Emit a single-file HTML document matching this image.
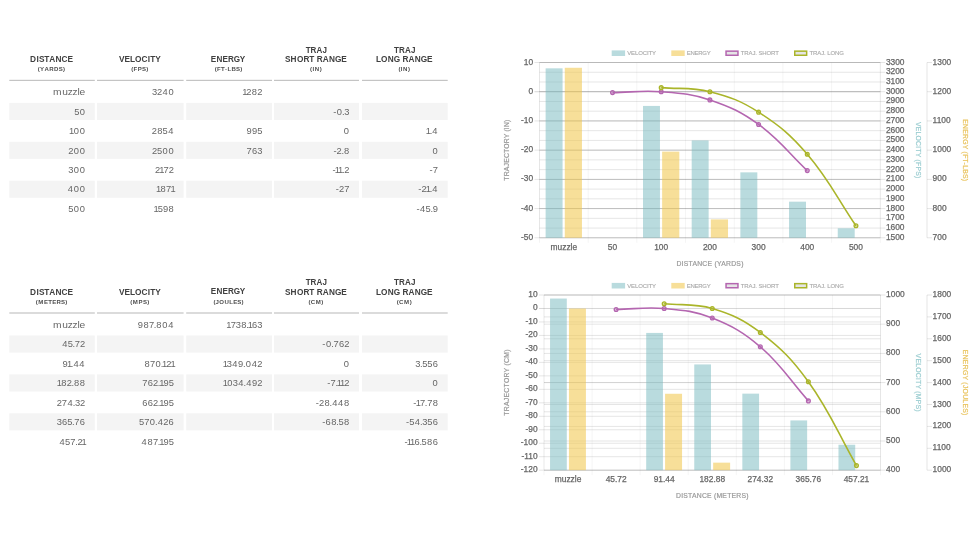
<!DOCTYPE html>
<html><head><meta charset="utf-8"><title>Ballistics</title>
<style>
html,body{margin:0;padding:0;background:#fff;}
body{width:978px;height:550px;overflow:hidden;position:relative;font-family:'Liberation Sans', Arial, sans-serif;}
svg{position:absolute;left:0;top:0;will-change:transform;}
</style></head><body>
<svg width="978" height="550" viewBox="0 0 978 550" font-family="'Liberation Sans', Arial, sans-serif">
<rect x="9.30" y="79.80" width="85.50" height="1.2" fill="#c4c4c4"/>
<text x="30.02 36.54 38.89 44.19 49.27 55.52 61.61 67.42" y="61.90" font-size="8.3" fill="#404040" font-weight="bold">DISTANCE</text>
<text x="35.98 38.17 42.34 46.84 51.51 56.06 60.09" y="71.20" font-size="5.8" fill="#4d4d4d" font-weight="bold" transform="scale(1.050,1)">(YARDS)</text>
<rect x="97.00" y="79.80" width="86.60" height="1.2" fill="#c4c4c4"/>
<text x="118.94 124.61 129.97 135.06 141.52 147.66 150.17 155.14" y="61.90" font-size="8.3" fill="#404040" font-weight="bold">VELOCITY</text>
<text x="124.90 127.15 131.11 135.24 139.26" y="71.20" font-size="5.8" fill="#4d4d4d" font-weight="bold" transform="scale(1.050,1)">(FPS)</text>
<rect x="186.20" y="79.80" width="85.80" height="1.2" fill="#c4c4c4"/>
<text x="214.79 220.57 226.81 232.31 238.18 244.53" y="61.90" font-size="8.3" fill="#404040" font-weight="bold" transform="scale(0.981,1)">ENERGY</text>
<text x="204.47 206.72 210.52 214.40 216.64 220.43 224.81 228.84" y="71.20" font-size="5.8" fill="#4d4d4d" font-weight="bold" transform="scale(1.050,1)">(FT-LBS)</text>
<rect x="274.00" y="79.80" width="85.00" height="1.2" fill="#c4c4c4"/>
<text x="314.78 319.90 326.06 332.16" y="52.90" font-size="8.3" fill="#404040" font-weight="bold" transform="scale(0.971,1)">TRAJ</text>
<text x="286.21 291.78 298.12 304.65 310.55 315.68 318.02 324.02 330.30 336.37 342.61" y="62.10" font-size="8.3" fill="#404040" font-weight="bold" transform="scale(0.996,1)">SHORT RANGE</text>
<text x="295.31 297.64 299.80 304.47" y="71.20" font-size="5.8" fill="#4d4d4d" font-weight="bold" transform="scale(1.050,1)">(IN)</text>
<rect x="362.00" y="79.80" width="85.70" height="1.2" fill="#c4c4c4"/>
<text x="405.80 410.93 417.09 423.19" y="52.90" font-size="8.3" fill="#404040" font-weight="bold" transform="scale(0.971,1)">TRAJ</text>
<text x="377.40 382.51 389.32 395.38 401.78 404.12 410.13 416.40 422.47 428.71" y="62.10" font-size="8.3" fill="#404040" font-weight="bold" transform="scale(0.996,1)">LONG RANGE</text>
<text x="379.45 381.78 383.94 388.61" y="71.20" font-size="5.8" fill="#4d4d4d" font-weight="bold" transform="scale(1.050,1)">(IN)</text>
<text x="43.99 51.63 56.28 60.09 64.18 66.02" y="95.25" font-size="8.5" fill="#666" transform="scale(1.206,1)">muzzle</text>
<text x="138.10 142.73 147.75 153.17" y="95.25" font-size="8.5" fill="#666" transform="scale(1.100,1)">3240</text>
<text x="220.14 223.94 228.87 233.80" y="95.25" font-size="8.5" fill="#666" transform="scale(1.100,1)">1282</text>
<rect x="9.30" y="102.90" width="85.50" height="17.1" fill="#f4f4f4"/>
<text x="67.42 72.44" y="114.70" font-size="8.5" fill="#666" transform="scale(1.100,1)">50</text>
<rect x="97.00" y="102.90" width="86.60" height="17.1" fill="#f4f4f4"/>
<rect x="186.20" y="102.90" width="85.80" height="17.1" fill="#f4f4f4"/>
<rect x="274.00" y="102.90" width="85.00" height="17.1" fill="#f4f4f4"/>
<text x="302.93 306.25 311.01 313.00" y="114.70" font-size="8.5" fill="#666" transform="scale(1.100,1)">-0.3</text>
<rect x="362.00" y="102.90" width="85.70" height="17.1" fill="#f4f4f4"/>
<text x="62.84 67.02 72.44" y="134.15" font-size="8.5" fill="#666" transform="scale(1.100,1)">100</text>
<text x="137.99 142.92 147.85 152.87" y="134.15" font-size="8.5" fill="#666" transform="scale(1.100,1)">2854</text>
<text x="224.03 229.01 233.82" y="134.15" font-size="8.5" fill="#666" transform="scale(1.100,1)">995</text>
<text x="312.62" y="134.15" font-size="8.5" fill="#666" transform="scale(1.100,1)">0</text>
<text x="387.04 390.57 392.96" y="134.15" font-size="8.5" fill="#666" transform="scale(1.100,1)">1.4</text>
<rect x="9.30" y="141.80" width="85.50" height="17.1" fill="#f4f4f4"/>
<text x="61.99 67.02 72.44" y="153.60" font-size="8.5" fill="#666" transform="scale(1.100,1)">200</text>
<rect x="97.00" y="141.80" width="86.60" height="17.1" fill="#f4f4f4"/>
<text x="138.09 142.73 147.75 153.17" y="153.60" font-size="8.5" fill="#666" transform="scale(1.100,1)">2500</text>
<rect x="186.20" y="141.80" width="85.80" height="17.1" fill="#f4f4f4"/>
<text x="224.21 229.11 233.91" y="153.60" font-size="8.5" fill="#666" transform="scale(1.100,1)">763</text>
<rect x="274.00" y="141.80" width="85.00" height="17.1" fill="#f4f4f4"/>
<text x="303.09 306.02 310.40 312.69" y="153.60" font-size="8.5" fill="#666" transform="scale(1.100,1)">-2.8</text>
<rect x="362.00" y="141.80" width="85.70" height="17.1" fill="#f4f4f4"/>
<text x="393.26" y="153.60" font-size="8.5" fill="#666" transform="scale(1.100,1)">0</text>
<text x="62.01 67.02 72.44" y="173.05" font-size="8.5" fill="#666" transform="scale(1.100,1)">300</text>
<text x="141.02 144.82 148.71 153.44" y="173.05" font-size="8.5" fill="#666" transform="scale(1.100,1)">2172</text>
<text x="302.31 304.41 307.36 310.89 312.89" y="173.05" font-size="8.5" fill="#666" transform="scale(1.100,1)">-11.2</text>
<text x="390.46 393.48" y="173.05" font-size="8.5" fill="#666" transform="scale(1.100,1)">-7</text>
<rect x="9.30" y="180.70" width="85.50" height="17.1" fill="#f4f4f4"/>
<text x="61.61 67.02 72.44" y="192.50" font-size="8.5" fill="#666" transform="scale(1.100,1)">400</text>
<rect x="97.00" y="180.70" width="86.60" height="17.1" fill="#f4f4f4"/>
<text x="141.92 146.01 151.03 154.92" y="192.50" font-size="8.5" fill="#666" transform="scale(1.100,1)">1871</text>
<rect x="186.20" y="180.70" width="85.80" height="17.1" fill="#f4f4f4"/>
<rect x="274.00" y="180.70" width="85.00" height="17.1" fill="#f4f4f4"/>
<text x="305.18 308.12 312.85" y="192.50" font-size="8.5" fill="#666" transform="scale(1.100,1)">-27</text>
<rect x="362.00" y="180.70" width="85.70" height="17.1" fill="#f4f4f4"/>
<text x="380.30 383.24 387.04 390.57 392.96" y="192.50" font-size="8.5" fill="#666" transform="scale(1.100,1)">-21.4</text>
<text x="62.00 67.02 72.44" y="211.95" font-size="8.5" fill="#666" transform="scale(1.100,1)">500</text>
<text x="139.54 143.33 148.14 153.24" y="211.95" font-size="8.5" fill="#666" transform="scale(1.100,1)">1598</text>
<text x="378.60 381.92 386.94 391.30 393.48" y="211.95" font-size="8.5" fill="#666" transform="scale(1.100,1)">-45.9</text>
<rect x="9.30" y="312.40" width="85.50" height="1.2" fill="#c4c4c4"/>
<text x="30.02 36.54 38.89 44.19 49.27 55.52 61.61 67.42" y="294.50" font-size="8.3" fill="#404040" font-weight="bold">DISTANCE</text>
<text x="34.03 36.53 41.87 45.93 49.66 53.72 58.02 62.04" y="303.80" font-size="5.8" fill="#4d4d4d" font-weight="bold" transform="scale(1.050,1)">(METERS)</text>
<rect x="97.00" y="312.40" width="86.60" height="1.2" fill="#c4c4c4"/>
<text x="118.94 124.61 129.97 135.06 141.52 147.66 150.17 155.14" y="294.50" font-size="8.3" fill="#404040" font-weight="bold">VELOCITY</text>
<text x="124.00 126.51 132.02 136.14 140.16" y="303.80" font-size="5.8" fill="#4d4d4d" font-weight="bold" transform="scale(1.050,1)">(MPS)</text>
<rect x="186.20" y="312.40" width="85.80" height="1.2" fill="#c4c4c4"/>
<text x="214.79 220.57 226.81 232.31 238.18 244.53" y="294.50" font-size="8.3" fill="#404040" font-weight="bold" transform="scale(0.981,1)">ENERGY</text>
<text x="203.22 205.35 208.87 213.91 218.42 222.11 226.06 230.08" y="303.80" font-size="5.8" fill="#4d4d4d" font-weight="bold" transform="scale(1.050,1)">(JOULES)</text>
<rect x="274.00" y="312.40" width="85.00" height="1.2" fill="#c4c4c4"/>
<text x="314.78 319.90 326.06 332.16" y="285.50" font-size="8.3" fill="#404040" font-weight="bold" transform="scale(0.971,1)">TRAJ</text>
<text x="286.21 291.78 298.12 304.65 310.55 315.68 318.02 324.02 330.30 336.37 342.61" y="294.70" font-size="8.3" fill="#404040" font-weight="bold" transform="scale(0.996,1)">SHORT RANGE</text>
<text x="293.76 295.93 300.61 306.02" y="303.80" font-size="5.8" fill="#4d4d4d" font-weight="bold" transform="scale(1.050,1)">(CM)</text>
<rect x="362.00" y="312.40" width="85.70" height="1.2" fill="#c4c4c4"/>
<text x="405.80 410.93 417.09 423.19" y="285.50" font-size="8.3" fill="#404040" font-weight="bold" transform="scale(0.971,1)">TRAJ</text>
<text x="377.40 382.51 389.32 395.38 401.78 404.12 410.13 416.40 422.47 428.71" y="294.70" font-size="8.3" fill="#404040" font-weight="bold" transform="scale(0.996,1)">LONG RANGE</text>
<text x="377.90 380.07 384.75 390.17" y="303.80" font-size="5.8" fill="#4d4d4d" font-weight="bold" transform="scale(1.050,1)">(CM)</text>
<text x="43.99 51.63 56.28 60.09 64.18 66.02" y="327.85" font-size="8.5" fill="#666" transform="scale(1.206,1)">muzzle</text>
<text x="125.26 130.36 135.38 139.84 142.14 147.45 152.87" y="327.85" font-size="8.5" fill="#666" transform="scale(1.100,1)">987.804</text>
<text x="205.80 209.69 214.41 219.32 223.98 225.15 229.11 233.91" y="327.85" font-size="8.5" fill="#666" transform="scale(1.100,1)">1738.163</text>
<rect x="9.30" y="335.50" width="85.50" height="17.1" fill="#f4f4f4"/>
<text x="56.50 61.52 65.89 67.98 72.71" y="347.30" font-size="8.5" fill="#666" transform="scale(1.100,1)">45.72</text>
<rect x="97.00" y="335.50" width="86.60" height="17.1" fill="#f4f4f4"/>
<rect x="186.20" y="335.50" width="85.80" height="17.1" fill="#f4f4f4"/>
<rect x="274.00" y="335.50" width="85.00" height="17.1" fill="#f4f4f4"/>
<text x="293.00 296.33 301.08 303.18 308.08 312.89" y="347.30" font-size="8.5" fill="#666" transform="scale(1.100,1)">-0.762</text>
<rect x="362.00" y="335.50" width="85.70" height="17.1" fill="#f4f4f4"/>
<text x="56.85 60.82 64.34 66.73 72.14" y="366.75" font-size="8.5" fill="#666" transform="scale(1.100,1)">91.44</text>
<text x="131.26 136.28 141.39 146.15 147.31 151.11 154.92" y="366.75" font-size="8.5" fill="#666" transform="scale(1.100,1)">870.121</text>
<text x="202.44 206.22 211.23 216.43 220.97 223.36 228.78 233.80" y="366.75" font-size="8.5" fill="#666" transform="scale(1.100,1)">1349.042</text>
<text x="312.62" y="366.75" font-size="8.5" fill="#666" transform="scale(1.100,1)">0</text>
<text x="377.51 381.87 383.87 388.50 393.31" y="366.75" font-size="8.5" fill="#666" transform="scale(1.100,1)">3.556</text>
<rect x="9.30" y="374.40" width="85.50" height="17.1" fill="#f4f4f4"/>
<text x="51.60 55.69 60.62 65.00 67.29 72.51" y="386.20" font-size="8.5" fill="#666" transform="scale(1.100,1)">182.88</text>
<rect x="97.00" y="374.40" width="86.60" height="17.1" fill="#f4f4f4"/>
<text x="129.43 134.33 139.15 143.52 144.68 148.65 153.46" y="386.20" font-size="8.5" fill="#666" transform="scale(1.100,1)">762.195</text>
<rect x="186.20" y="374.40" width="85.80" height="17.1" fill="#f4f4f4"/>
<text x="202.44 206.62 211.64 216.65 221.40 223.79 228.99 233.80" y="386.20" font-size="8.5" fill="#666" transform="scale(1.100,1)">1034.492</text>
<rect x="274.00" y="374.40" width="85.00" height="17.1" fill="#f4f4f4"/>
<text x="297.50 300.52 304.98 306.14 309.09 312.89" y="386.20" font-size="8.5" fill="#666" transform="scale(1.100,1)">-7.112</text>
<rect x="362.00" y="374.40" width="85.70" height="17.1" fill="#f4f4f4"/>
<text x="393.26" y="386.20" font-size="8.5" fill="#666" transform="scale(1.100,1)">0</text>
<text x="51.49 56.22 61.34 66.09 68.08 72.71" y="405.65" font-size="8.5" fill="#666" transform="scale(1.100,1)">274.32</text>
<text x="129.35 134.33 139.15 143.52 144.68 148.65 153.46" y="405.65" font-size="8.5" fill="#666" transform="scale(1.100,1)">662.195</text>
<text x="287.05 289.99 294.92 299.58 301.97 307.38 312.69" y="405.65" font-size="8.5" fill="#666" transform="scale(1.100,1)">-28.448</text>
<text x="375.78 377.87 381.76 386.21 388.31 393.33" y="405.65" font-size="8.5" fill="#666" transform="scale(1.100,1)">-17.78</text>
<rect x="9.30" y="413.30" width="85.50" height="17.1" fill="#f4f4f4"/>
<text x="51.52 56.32 61.13 65.49 67.59 72.49" y="425.10" font-size="8.5" fill="#666" transform="scale(1.100,1)">365.76</text>
<rect x="97.00" y="413.30" width="86.60" height="17.1" fill="#f4f4f4"/>
<text x="126.38 131.11 136.23 140.98 143.37 148.40 153.21" y="425.10" font-size="8.5" fill="#666" transform="scale(1.100,1)">570.426</text>
<rect x="186.20" y="413.30" width="85.80" height="17.1" fill="#f4f4f4"/>
<rect x="274.00" y="413.30" width="85.00" height="17.1" fill="#f4f4f4"/>
<text x="292.90 296.01 301.11 305.77 307.77 312.69" y="425.10" font-size="8.5" fill="#666" transform="scale(1.100,1)">-68.58</text>
<rect x="362.00" y="413.30" width="85.70" height="17.1" fill="#f4f4f4"/>
<text x="369.18 372.11 377.13 381.88 383.88 388.50 393.31" y="425.10" font-size="8.5" fill="#666" transform="scale(1.100,1)">-54.356</text>
<text x="54.18 59.19 63.92 68.38 70.39 74.19" y="444.55" font-size="8.5" fill="#666" transform="scale(1.100,1)">457.21</text>
<text x="128.73 134.04 139.06 143.52 144.68 148.65 153.46" y="444.55" font-size="8.5" fill="#666" transform="scale(1.100,1)">487.195</text>
<text x="367.72 369.82 372.77 376.74 381.28 383.28 388.20 393.31" y="444.55" font-size="8.5" fill="#666" transform="scale(1.100,1)">-116.586</text>
<line x1="539.50" y1="62.50" x2="539.50" y2="242.80" stroke="rgba(0,0,0,0.045)" stroke-width="1"/>
<line x1="588.19" y1="62.50" x2="588.19" y2="242.80" stroke="rgba(0,0,0,0.045)" stroke-width="1"/>
<line x1="636.87" y1="62.50" x2="636.87" y2="242.80" stroke="rgba(0,0,0,0.045)" stroke-width="1"/>
<line x1="685.56" y1="62.50" x2="685.56" y2="242.80" stroke="rgba(0,0,0,0.045)" stroke-width="1"/>
<line x1="734.24" y1="62.50" x2="734.24" y2="242.80" stroke="rgba(0,0,0,0.045)" stroke-width="1"/>
<line x1="782.93" y1="62.50" x2="782.93" y2="242.80" stroke="rgba(0,0,0,0.045)" stroke-width="1"/>
<line x1="831.61" y1="62.50" x2="831.61" y2="242.80" stroke="rgba(0,0,0,0.045)" stroke-width="1"/>
<line x1="880.30" y1="62.50" x2="880.30" y2="242.80" stroke="rgba(0,0,0,0.045)" stroke-width="1"/>
<line x1="534.50" y1="237.80" x2="880.30" y2="237.80" stroke="rgba(0,0,0,0.1)" stroke-width="1"/>
<text x="533.10" y="239.80" font-size="8.4" fill="#666" text-anchor="end" stroke="#666" stroke-width="0.25">-50</text>
<line x1="534.50" y1="208.58" x2="880.30" y2="208.58" stroke="rgba(0,0,0,0.1)" stroke-width="1"/>
<text x="533.10" y="210.58" font-size="8.4" fill="#666" text-anchor="end" stroke="#666" stroke-width="0.25">-40</text>
<line x1="534.50" y1="179.37" x2="880.30" y2="179.37" stroke="rgba(0,0,0,0.1)" stroke-width="1"/>
<text x="533.10" y="181.37" font-size="8.4" fill="#666" text-anchor="end" stroke="#666" stroke-width="0.25">-30</text>
<line x1="534.50" y1="150.15" x2="880.30" y2="150.15" stroke="rgba(0,0,0,0.1)" stroke-width="1"/>
<text x="533.10" y="152.15" font-size="8.4" fill="#666" text-anchor="end" stroke="#666" stroke-width="0.25">-20</text>
<line x1="534.50" y1="120.93" x2="880.30" y2="120.93" stroke="rgba(0,0,0,0.1)" stroke-width="1"/>
<text x="533.10" y="122.93" font-size="8.4" fill="#666" text-anchor="end" stroke="#666" stroke-width="0.25">-10</text>
<line x1="534.50" y1="91.72" x2="880.30" y2="91.72" stroke="rgba(0,0,0,0.16)" stroke-width="1"/>
<text x="533.10" y="93.72" font-size="8.4" fill="#666" text-anchor="end" stroke="#666" stroke-width="0.25">0</text>
<line x1="534.50" y1="62.50" x2="880.30" y2="62.50" stroke="rgba(0,0,0,0.1)" stroke-width="1"/>
<text x="533.10" y="64.50" font-size="8.4" fill="#666" text-anchor="end" stroke="#666" stroke-width="0.25">10</text>
<line x1="539.50" y1="237.80" x2="885.30" y2="237.80" stroke="rgba(0,0,0,0.1)" stroke-width="1"/>
<text x="885.90" y="239.80" font-size="8.4" fill="#666" stroke="#666" stroke-width="0.25">1500</text>
<line x1="539.50" y1="228.06" x2="885.30" y2="228.06" stroke="rgba(0,0,0,0.1)" stroke-width="1"/>
<text x="885.90" y="230.06" font-size="8.4" fill="#666" stroke="#666" stroke-width="0.25">1600</text>
<line x1="539.50" y1="218.32" x2="885.30" y2="218.32" stroke="rgba(0,0,0,0.1)" stroke-width="1"/>
<text x="885.90" y="220.32" font-size="8.4" fill="#666" stroke="#666" stroke-width="0.25">1700</text>
<line x1="539.50" y1="208.58" x2="885.30" y2="208.58" stroke="rgba(0,0,0,0.1)" stroke-width="1"/>
<text x="885.90" y="210.58" font-size="8.4" fill="#666" stroke="#666" stroke-width="0.25">1800</text>
<line x1="539.50" y1="198.84" x2="885.30" y2="198.84" stroke="rgba(0,0,0,0.1)" stroke-width="1"/>
<text x="885.90" y="200.84" font-size="8.4" fill="#666" stroke="#666" stroke-width="0.25">1900</text>
<line x1="539.50" y1="189.11" x2="885.30" y2="189.11" stroke="rgba(0,0,0,0.1)" stroke-width="1"/>
<text x="885.90" y="191.11" font-size="8.4" fill="#666" stroke="#666" stroke-width="0.25">2000</text>
<line x1="539.50" y1="179.37" x2="885.30" y2="179.37" stroke="rgba(0,0,0,0.1)" stroke-width="1"/>
<text x="885.90" y="181.37" font-size="8.4" fill="#666" stroke="#666" stroke-width="0.25">2100</text>
<line x1="539.50" y1="169.63" x2="885.30" y2="169.63" stroke="rgba(0,0,0,0.1)" stroke-width="1"/>
<text x="885.90" y="171.63" font-size="8.4" fill="#666" stroke="#666" stroke-width="0.25">2200</text>
<line x1="539.50" y1="159.89" x2="885.30" y2="159.89" stroke="rgba(0,0,0,0.1)" stroke-width="1"/>
<text x="885.90" y="161.89" font-size="8.4" fill="#666" stroke="#666" stroke-width="0.25">2300</text>
<line x1="539.50" y1="150.15" x2="885.30" y2="150.15" stroke="rgba(0,0,0,0.1)" stroke-width="1"/>
<text x="885.90" y="152.15" font-size="8.4" fill="#666" stroke="#666" stroke-width="0.25">2400</text>
<line x1="539.50" y1="140.41" x2="885.30" y2="140.41" stroke="rgba(0,0,0,0.1)" stroke-width="1"/>
<text x="885.90" y="142.41" font-size="8.4" fill="#666" stroke="#666" stroke-width="0.25">2500</text>
<line x1="539.50" y1="130.67" x2="885.30" y2="130.67" stroke="rgba(0,0,0,0.1)" stroke-width="1"/>
<text x="885.90" y="132.67" font-size="8.4" fill="#666" stroke="#666" stroke-width="0.25">2600</text>
<line x1="539.50" y1="120.93" x2="885.30" y2="120.93" stroke="rgba(0,0,0,0.1)" stroke-width="1"/>
<text x="885.90" y="122.93" font-size="8.4" fill="#666" stroke="#666" stroke-width="0.25">2700</text>
<line x1="539.50" y1="111.19" x2="885.30" y2="111.19" stroke="rgba(0,0,0,0.1)" stroke-width="1"/>
<text x="885.90" y="113.19" font-size="8.4" fill="#666" stroke="#666" stroke-width="0.25">2800</text>
<line x1="539.50" y1="101.46" x2="885.30" y2="101.46" stroke="rgba(0,0,0,0.1)" stroke-width="1"/>
<text x="885.90" y="103.46" font-size="8.4" fill="#666" stroke="#666" stroke-width="0.25">2900</text>
<line x1="539.50" y1="91.72" x2="885.30" y2="91.72" stroke="rgba(0,0,0,0.1)" stroke-width="1"/>
<text x="885.90" y="93.72" font-size="8.4" fill="#666" stroke="#666" stroke-width="0.25">3000</text>
<line x1="539.50" y1="81.98" x2="885.30" y2="81.98" stroke="rgba(0,0,0,0.1)" stroke-width="1"/>
<text x="885.90" y="83.98" font-size="8.4" fill="#666" stroke="#666" stroke-width="0.25">3100</text>
<line x1="539.50" y1="72.24" x2="885.30" y2="72.24" stroke="rgba(0,0,0,0.1)" stroke-width="1"/>
<text x="885.90" y="74.24" font-size="8.4" fill="#666" stroke="#666" stroke-width="0.25">3200</text>
<line x1="539.50" y1="62.50" x2="885.30" y2="62.50" stroke="rgba(0,0,0,0.1)" stroke-width="1"/>
<text x="885.90" y="64.50" font-size="8.4" fill="#666" stroke="#666" stroke-width="0.25">3300</text>
<line x1="539.50" y1="237.80" x2="880.30" y2="237.80" stroke="rgba(0,0,0,0.1)" stroke-width="1"/>
<line x1="927.00" y1="237.80" x2="932.00" y2="237.80" stroke="rgba(0,0,0,0.1)" stroke-width="1"/>
<text x="932.60" y="239.80" font-size="8.4" fill="#666" stroke="#666" stroke-width="0.25">700</text>
<line x1="539.50" y1="208.58" x2="880.30" y2="208.58" stroke="rgba(0,0,0,0.1)" stroke-width="1"/>
<line x1="927.00" y1="208.58" x2="932.00" y2="208.58" stroke="rgba(0,0,0,0.1)" stroke-width="1"/>
<text x="932.60" y="210.58" font-size="8.4" fill="#666" stroke="#666" stroke-width="0.25">800</text>
<line x1="539.50" y1="179.37" x2="880.30" y2="179.37" stroke="rgba(0,0,0,0.1)" stroke-width="1"/>
<line x1="927.00" y1="179.37" x2="932.00" y2="179.37" stroke="rgba(0,0,0,0.1)" stroke-width="1"/>
<text x="932.60" y="181.37" font-size="8.4" fill="#666" stroke="#666" stroke-width="0.25">900</text>
<line x1="539.50" y1="150.15" x2="880.30" y2="150.15" stroke="rgba(0,0,0,0.1)" stroke-width="1"/>
<line x1="927.00" y1="150.15" x2="932.00" y2="150.15" stroke="rgba(0,0,0,0.1)" stroke-width="1"/>
<text x="932.60" y="152.15" font-size="8.4" fill="#666" stroke="#666" stroke-width="0.25">1000</text>
<line x1="539.50" y1="120.93" x2="880.30" y2="120.93" stroke="rgba(0,0,0,0.1)" stroke-width="1"/>
<line x1="927.00" y1="120.93" x2="932.00" y2="120.93" stroke="rgba(0,0,0,0.1)" stroke-width="1"/>
<text x="932.60" y="122.93" font-size="8.4" fill="#666" stroke="#666" stroke-width="0.25">1100</text>
<line x1="539.50" y1="91.72" x2="880.30" y2="91.72" stroke="rgba(0,0,0,0.1)" stroke-width="1"/>
<line x1="927.00" y1="91.72" x2="932.00" y2="91.72" stroke="rgba(0,0,0,0.1)" stroke-width="1"/>
<text x="932.60" y="93.72" font-size="8.4" fill="#666" stroke="#666" stroke-width="0.25">1200</text>
<line x1="539.50" y1="62.50" x2="880.30" y2="62.50" stroke="rgba(0,0,0,0.1)" stroke-width="1"/>
<line x1="927.00" y1="62.50" x2="932.00" y2="62.50" stroke="rgba(0,0,0,0.1)" stroke-width="1"/>
<text x="932.60" y="64.50" font-size="8.4" fill="#666" stroke="#666" stroke-width="0.25">1300</text>
<line x1="927.00" y1="62.50" x2="927.00" y2="237.80" stroke="rgba(0,0,0,0.1)" stroke-width="1"/>
<line x1="539.50" y1="62.50" x2="539.50" y2="237.80" stroke="rgba(0,0,0,0.06)" stroke-width="1"/>
<line x1="880.30" y1="62.50" x2="880.30" y2="237.80" stroke="rgba(0,0,0,0.06)" stroke-width="1"/>
<text x="563.84" y="249.70" font-size="8.4" fill="#666" text-anchor="middle" stroke="#666" stroke-width="0.25">muzzle</text>
<text x="612.53" y="249.70" font-size="8.4" fill="#666" text-anchor="middle" stroke="#666" stroke-width="0.25">50</text>
<text x="661.21" y="249.70" font-size="8.4" fill="#666" text-anchor="middle" stroke="#666" stroke-width="0.25">100</text>
<text x="709.90" y="249.70" font-size="8.4" fill="#666" text-anchor="middle" stroke="#666" stroke-width="0.25">200</text>
<text x="758.59" y="249.70" font-size="8.4" fill="#666" text-anchor="middle" stroke="#666" stroke-width="0.25">300</text>
<text x="807.27" y="249.70" font-size="8.4" fill="#666" text-anchor="middle" stroke="#666" stroke-width="0.25">400</text>
<text x="855.96" y="249.70" font-size="8.4" fill="#666" text-anchor="middle" stroke="#666" stroke-width="0.25">500</text>
<rect x="545.63" y="68.34" width="16.94" height="169.46" fill="rgba(115,183,190,0.5)"/>
<rect x="564.76" y="67.76" width="17.19" height="170.04" fill="rgba(240,196,70,0.55)"/>
<rect x="643.01" y="105.94" width="16.94" height="131.86" fill="rgba(115,183,190,0.5)"/>
<rect x="662.13" y="151.61" width="17.19" height="86.19" fill="rgba(240,196,70,0.55)"/>
<rect x="691.69" y="140.41" width="16.94" height="97.39" fill="rgba(115,183,190,0.5)"/>
<rect x="710.82" y="219.39" width="17.19" height="18.41" fill="rgba(240,196,70,0.55)"/>
<rect x="740.38" y="172.35" width="16.94" height="65.45" fill="rgba(115,183,190,0.5)"/>
<rect x="789.06" y="201.67" width="16.94" height="36.13" fill="rgba(115,183,190,0.5)"/>
<rect x="837.75" y="228.26" width="16.94" height="9.54" fill="rgba(115,183,190,0.5)"/>
<path d="M612.53,92.59 C632.00,92.24 641.87,90.27 661.21,91.72 C680.82,93.19 691.39,93.68 709.90,99.90 C730.34,106.77 741.12,111.76 758.59,124.44 C780.07,140.04 787.80,152.14 807.27,170.60" fill="none" stroke="#b466b0" stroke-width="1.6"/>
<circle cx="612.53" cy="92.59" r="1.9" fill="#b466b0" fill-opacity="0.45" stroke="#b466b0" stroke-width="1.3"/>
<circle cx="661.21" cy="91.72" r="1.9" fill="#b466b0" fill-opacity="0.45" stroke="#b466b0" stroke-width="1.3"/>
<circle cx="709.90" cy="99.90" r="1.9" fill="#b466b0" fill-opacity="0.45" stroke="#b466b0" stroke-width="1.3"/>
<circle cx="758.59" cy="124.44" r="1.9" fill="#b466b0" fill-opacity="0.45" stroke="#b466b0" stroke-width="1.3"/>
<circle cx="807.27" cy="170.60" r="1.9" fill="#b466b0" fill-opacity="0.45" stroke="#b466b0" stroke-width="1.3"/>
<path d="M661.21,87.63 C680.69,89.26 691.18,87.00 709.90,91.72 C730.13,96.82 741.03,100.90 758.59,112.17 C779.98,125.90 790.66,134.86 807.27,154.24 C829.61,180.32 836.48,197.19 855.96,225.82" fill="none" stroke="#aab52a" stroke-width="1.6"/>
<circle cx="661.21" cy="87.63" r="1.9" fill="#aab52a" fill-opacity="0.45" stroke="#aab52a" stroke-width="1.3"/>
<circle cx="709.90" cy="91.72" r="1.9" fill="#aab52a" fill-opacity="0.45" stroke="#aab52a" stroke-width="1.3"/>
<circle cx="758.59" cy="112.17" r="1.9" fill="#aab52a" fill-opacity="0.45" stroke="#aab52a" stroke-width="1.3"/>
<circle cx="807.27" cy="154.24" r="1.9" fill="#aab52a" fill-opacity="0.45" stroke="#aab52a" stroke-width="1.3"/>
<circle cx="855.96" cy="225.82" r="1.9" fill="#aab52a" fill-opacity="0.45" stroke="#aab52a" stroke-width="1.3"/>
<text x="509.40" y="150.15" font-size="6.8" fill="#999" text-anchor="middle" textLength="61.00" lengthAdjust="spacing" stroke="#999" stroke-width="0.2" transform="rotate(-90 509.4 150.15)">TRAJECTORY (IN)</text>
<text x="916.20" y="150.15" font-size="6.8" fill="#9ccdd1" text-anchor="middle" textLength="56.30" lengthAdjust="spacing" stroke="#9ccdd1" stroke-width="0.2" transform="rotate(90 916.2 150.15)">VELOCITY (FPS)</text>
<text x="962.50" y="150.15" font-size="6.8" fill="#e9c45f" text-anchor="middle" textLength="61.90" lengthAdjust="spacing" stroke="#e9c45f" stroke-width="0.2" transform="rotate(90 962.5 150.15)">ENERGY (FT-LBS)</text>
<text x="709.90" y="266.00" font-size="6.8" fill="#999" text-anchor="middle" textLength="67.00" lengthAdjust="spacing" stroke="#999" stroke-width="0.2">DISTANCE (YARDS)</text>
<rect x="611.70" y="50.40" width="13.40" height="5.60" fill="rgba(115,183,190,0.5)" stroke="rgba(115,183,190,0.5)" stroke-width="0"/>
<text x="627.20" y="55.00" font-size="6.0" fill="#aaa" textLength="28.90" lengthAdjust="spacing" stroke="#aaa" stroke-width="0.12">VELOCITY</text>
<rect x="671.30" y="50.40" width="13.40" height="5.60" fill="rgba(240,196,70,0.55)" stroke="rgba(240,196,70,0.55)" stroke-width="0"/>
<text x="686.80" y="55.00" font-size="6.0" fill="#aaa" textLength="23.90" lengthAdjust="spacing" stroke="#aaa" stroke-width="0.12">ENERGY</text>
<rect x="726.05" y="51.15" width="11.90" height="4.10" fill="rgba(0,0,0,0.1)" stroke="#b466b0" stroke-width="1.5"/>
<text x="740.80" y="55.00" font-size="6.0" fill="#aaa" textLength="38.10" lengthAdjust="spacing" stroke="#aaa" stroke-width="0.12">TRAJ. SHORT</text>
<rect x="794.75" y="51.15" width="11.90" height="4.10" fill="rgba(0,0,0,0.1)" stroke="#aab52a" stroke-width="1.5"/>
<text x="809.50" y="55.00" font-size="6.0" fill="#aaa" textLength="34.40" lengthAdjust="spacing" stroke="#aaa" stroke-width="0.12">TRAJ. LONG</text>
<line x1="544.00" y1="295.00" x2="544.00" y2="475.20" stroke="rgba(0,0,0,0.045)" stroke-width="1"/>
<line x1="592.07" y1="295.00" x2="592.07" y2="475.20" stroke="rgba(0,0,0,0.045)" stroke-width="1"/>
<line x1="640.14" y1="295.00" x2="640.14" y2="475.20" stroke="rgba(0,0,0,0.045)" stroke-width="1"/>
<line x1="688.21" y1="295.00" x2="688.21" y2="475.20" stroke="rgba(0,0,0,0.045)" stroke-width="1"/>
<line x1="736.29" y1="295.00" x2="736.29" y2="475.20" stroke="rgba(0,0,0,0.045)" stroke-width="1"/>
<line x1="784.36" y1="295.00" x2="784.36" y2="475.20" stroke="rgba(0,0,0,0.045)" stroke-width="1"/>
<line x1="832.43" y1="295.00" x2="832.43" y2="475.20" stroke="rgba(0,0,0,0.045)" stroke-width="1"/>
<line x1="880.50" y1="295.00" x2="880.50" y2="475.20" stroke="rgba(0,0,0,0.045)" stroke-width="1"/>
<line x1="539.00" y1="470.20" x2="880.50" y2="470.20" stroke="rgba(0,0,0,0.1)" stroke-width="1"/>
<text x="537.60" y="472.20" font-size="8.4" fill="#666" text-anchor="end" stroke="#666" stroke-width="0.25">-120</text>
<line x1="539.00" y1="456.72" x2="880.50" y2="456.72" stroke="rgba(0,0,0,0.1)" stroke-width="1"/>
<text x="537.60" y="458.72" font-size="8.4" fill="#666" text-anchor="end" stroke="#666" stroke-width="0.25">-110</text>
<line x1="539.00" y1="443.25" x2="880.50" y2="443.25" stroke="rgba(0,0,0,0.1)" stroke-width="1"/>
<text x="537.60" y="445.25" font-size="8.4" fill="#666" text-anchor="end" stroke="#666" stroke-width="0.25">-100</text>
<line x1="539.00" y1="429.77" x2="880.50" y2="429.77" stroke="rgba(0,0,0,0.1)" stroke-width="1"/>
<text x="537.60" y="431.77" font-size="8.4" fill="#666" text-anchor="end" stroke="#666" stroke-width="0.25">-90</text>
<line x1="539.00" y1="416.29" x2="880.50" y2="416.29" stroke="rgba(0,0,0,0.1)" stroke-width="1"/>
<text x="537.60" y="418.29" font-size="8.4" fill="#666" text-anchor="end" stroke="#666" stroke-width="0.25">-80</text>
<line x1="539.00" y1="402.82" x2="880.50" y2="402.82" stroke="rgba(0,0,0,0.1)" stroke-width="1"/>
<text x="537.60" y="404.82" font-size="8.4" fill="#666" text-anchor="end" stroke="#666" stroke-width="0.25">-70</text>
<line x1="539.00" y1="389.34" x2="880.50" y2="389.34" stroke="rgba(0,0,0,0.1)" stroke-width="1"/>
<text x="537.60" y="391.34" font-size="8.4" fill="#666" text-anchor="end" stroke="#666" stroke-width="0.25">-60</text>
<line x1="539.00" y1="375.86" x2="880.50" y2="375.86" stroke="rgba(0,0,0,0.1)" stroke-width="1"/>
<text x="537.60" y="377.86" font-size="8.4" fill="#666" text-anchor="end" stroke="#666" stroke-width="0.25">-50</text>
<line x1="539.00" y1="362.38" x2="880.50" y2="362.38" stroke="rgba(0,0,0,0.1)" stroke-width="1"/>
<text x="537.60" y="364.38" font-size="8.4" fill="#666" text-anchor="end" stroke="#666" stroke-width="0.25">-40</text>
<line x1="539.00" y1="348.91" x2="880.50" y2="348.91" stroke="rgba(0,0,0,0.1)" stroke-width="1"/>
<text x="537.60" y="350.91" font-size="8.4" fill="#666" text-anchor="end" stroke="#666" stroke-width="0.25">-30</text>
<line x1="539.00" y1="335.43" x2="880.50" y2="335.43" stroke="rgba(0,0,0,0.1)" stroke-width="1"/>
<text x="537.60" y="337.43" font-size="8.4" fill="#666" text-anchor="end" stroke="#666" stroke-width="0.25">-20</text>
<line x1="539.00" y1="321.95" x2="880.50" y2="321.95" stroke="rgba(0,0,0,0.1)" stroke-width="1"/>
<text x="537.60" y="323.95" font-size="8.4" fill="#666" text-anchor="end" stroke="#666" stroke-width="0.25">-10</text>
<line x1="539.00" y1="308.48" x2="880.50" y2="308.48" stroke="rgba(0,0,0,0.16)" stroke-width="1"/>
<text x="537.60" y="310.48" font-size="8.4" fill="#666" text-anchor="end" stroke="#666" stroke-width="0.25">0</text>
<line x1="539.00" y1="295.00" x2="880.50" y2="295.00" stroke="rgba(0,0,0,0.1)" stroke-width="1"/>
<text x="537.60" y="297.00" font-size="8.4" fill="#666" text-anchor="end" stroke="#666" stroke-width="0.25">10</text>
<line x1="544.00" y1="470.20" x2="885.50" y2="470.20" stroke="rgba(0,0,0,0.1)" stroke-width="1"/>
<text x="886.10" y="472.20" font-size="8.4" fill="#666" stroke="#666" stroke-width="0.25">400</text>
<line x1="544.00" y1="441.00" x2="885.50" y2="441.00" stroke="rgba(0,0,0,0.1)" stroke-width="1"/>
<text x="886.10" y="443.00" font-size="8.4" fill="#666" stroke="#666" stroke-width="0.25">500</text>
<line x1="544.00" y1="411.80" x2="885.50" y2="411.80" stroke="rgba(0,0,0,0.1)" stroke-width="1"/>
<text x="886.10" y="413.80" font-size="8.4" fill="#666" stroke="#666" stroke-width="0.25">600</text>
<line x1="544.00" y1="382.60" x2="885.50" y2="382.60" stroke="rgba(0,0,0,0.1)" stroke-width="1"/>
<text x="886.10" y="384.60" font-size="8.4" fill="#666" stroke="#666" stroke-width="0.25">700</text>
<line x1="544.00" y1="353.40" x2="885.50" y2="353.40" stroke="rgba(0,0,0,0.1)" stroke-width="1"/>
<text x="886.10" y="355.40" font-size="8.4" fill="#666" stroke="#666" stroke-width="0.25">800</text>
<line x1="544.00" y1="324.20" x2="885.50" y2="324.20" stroke="rgba(0,0,0,0.1)" stroke-width="1"/>
<text x="886.10" y="326.20" font-size="8.4" fill="#666" stroke="#666" stroke-width="0.25">900</text>
<line x1="544.00" y1="295.00" x2="885.50" y2="295.00" stroke="rgba(0,0,0,0.1)" stroke-width="1"/>
<text x="886.10" y="297.00" font-size="8.4" fill="#666" stroke="#666" stroke-width="0.25">1000</text>
<line x1="544.00" y1="470.20" x2="880.50" y2="470.20" stroke="rgba(0,0,0,0.1)" stroke-width="1"/>
<line x1="927.00" y1="470.20" x2="932.00" y2="470.20" stroke="rgba(0,0,0,0.1)" stroke-width="1"/>
<text x="932.60" y="472.20" font-size="8.4" fill="#666" stroke="#666" stroke-width="0.25">1000</text>
<line x1="544.00" y1="448.30" x2="880.50" y2="448.30" stroke="rgba(0,0,0,0.1)" stroke-width="1"/>
<line x1="927.00" y1="448.30" x2="932.00" y2="448.30" stroke="rgba(0,0,0,0.1)" stroke-width="1"/>
<text x="932.60" y="450.30" font-size="8.4" fill="#666" stroke="#666" stroke-width="0.25">1100</text>
<line x1="544.00" y1="426.40" x2="880.50" y2="426.40" stroke="rgba(0,0,0,0.1)" stroke-width="1"/>
<line x1="927.00" y1="426.40" x2="932.00" y2="426.40" stroke="rgba(0,0,0,0.1)" stroke-width="1"/>
<text x="932.60" y="428.40" font-size="8.4" fill="#666" stroke="#666" stroke-width="0.25">1200</text>
<line x1="544.00" y1="404.50" x2="880.50" y2="404.50" stroke="rgba(0,0,0,0.1)" stroke-width="1"/>
<line x1="927.00" y1="404.50" x2="932.00" y2="404.50" stroke="rgba(0,0,0,0.1)" stroke-width="1"/>
<text x="932.60" y="406.50" font-size="8.4" fill="#666" stroke="#666" stroke-width="0.25">1300</text>
<line x1="544.00" y1="382.60" x2="880.50" y2="382.60" stroke="rgba(0,0,0,0.1)" stroke-width="1"/>
<line x1="927.00" y1="382.60" x2="932.00" y2="382.60" stroke="rgba(0,0,0,0.1)" stroke-width="1"/>
<text x="932.60" y="384.60" font-size="8.4" fill="#666" stroke="#666" stroke-width="0.25">1400</text>
<line x1="544.00" y1="360.70" x2="880.50" y2="360.70" stroke="rgba(0,0,0,0.1)" stroke-width="1"/>
<line x1="927.00" y1="360.70" x2="932.00" y2="360.70" stroke="rgba(0,0,0,0.1)" stroke-width="1"/>
<text x="932.60" y="362.70" font-size="8.4" fill="#666" stroke="#666" stroke-width="0.25">1500</text>
<line x1="544.00" y1="338.80" x2="880.50" y2="338.80" stroke="rgba(0,0,0,0.1)" stroke-width="1"/>
<line x1="927.00" y1="338.80" x2="932.00" y2="338.80" stroke="rgba(0,0,0,0.1)" stroke-width="1"/>
<text x="932.60" y="340.80" font-size="8.4" fill="#666" stroke="#666" stroke-width="0.25">1600</text>
<line x1="544.00" y1="316.90" x2="880.50" y2="316.90" stroke="rgba(0,0,0,0.1)" stroke-width="1"/>
<line x1="927.00" y1="316.90" x2="932.00" y2="316.90" stroke="rgba(0,0,0,0.1)" stroke-width="1"/>
<text x="932.60" y="318.90" font-size="8.4" fill="#666" stroke="#666" stroke-width="0.25">1700</text>
<line x1="544.00" y1="295.00" x2="880.50" y2="295.00" stroke="rgba(0,0,0,0.1)" stroke-width="1"/>
<line x1="927.00" y1="295.00" x2="932.00" y2="295.00" stroke="rgba(0,0,0,0.1)" stroke-width="1"/>
<text x="932.60" y="297.00" font-size="8.4" fill="#666" stroke="#666" stroke-width="0.25">1800</text>
<line x1="927.00" y1="295.00" x2="927.00" y2="470.20" stroke="rgba(0,0,0,0.1)" stroke-width="1"/>
<line x1="544.00" y1="295.00" x2="544.00" y2="470.20" stroke="rgba(0,0,0,0.06)" stroke-width="1"/>
<line x1="880.50" y1="295.00" x2="880.50" y2="470.20" stroke="rgba(0,0,0,0.06)" stroke-width="1"/>
<text x="568.04" y="482.10" font-size="8.4" fill="#666" text-anchor="middle" stroke="#666" stroke-width="0.25">muzzle</text>
<text x="616.11" y="482.10" font-size="8.4" fill="#666" text-anchor="middle" stroke="#666" stroke-width="0.25">45.72</text>
<text x="664.18" y="482.10" font-size="8.4" fill="#666" text-anchor="middle" stroke="#666" stroke-width="0.25">91.44</text>
<text x="712.25" y="482.10" font-size="8.4" fill="#666" text-anchor="middle" stroke="#666" stroke-width="0.25">182.88</text>
<text x="760.32" y="482.10" font-size="8.4" fill="#666" text-anchor="middle" stroke="#666" stroke-width="0.25">274.32</text>
<text x="808.39" y="482.10" font-size="8.4" fill="#666" text-anchor="middle" stroke="#666" stroke-width="0.25">365.76</text>
<text x="856.46" y="482.10" font-size="8.4" fill="#666" text-anchor="middle" stroke="#666" stroke-width="0.25">457.21</text>
<rect x="550.06" y="298.56" width="16.73" height="171.64" fill="rgba(115,183,190,0.5)"/>
<rect x="568.94" y="308.54" width="16.98" height="161.66" fill="rgba(240,196,70,0.55)"/>
<rect x="646.20" y="332.92" width="16.73" height="137.28" fill="rgba(115,183,190,0.5)"/>
<rect x="665.08" y="393.76" width="16.98" height="76.44" fill="rgba(240,196,70,0.55)"/>
<rect x="694.27" y="364.44" width="16.73" height="105.76" fill="rgba(115,183,190,0.5)"/>
<rect x="713.15" y="462.65" width="16.98" height="7.55" fill="rgba(240,196,70,0.55)"/>
<rect x="742.34" y="393.64" width="16.73" height="76.56" fill="rgba(115,183,190,0.5)"/>
<rect x="790.41" y="420.44" width="16.73" height="49.76" fill="rgba(115,183,190,0.5)"/>
<rect x="838.49" y="444.74" width="16.73" height="25.46" fill="rgba(115,183,190,0.5)"/>
<path d="M616.11,309.50 C635.34,309.09 645.14,306.78 664.18,308.48 C683.59,310.20 694.30,310.90 712.25,318.06 C732.76,326.24 743.54,332.36 760.32,346.82 C782.00,365.49 789.16,379.27 808.39,400.90" fill="none" stroke="#b466b0" stroke-width="1.6"/>
<circle cx="616.11" cy="309.50" r="1.9" fill="#b466b0" fill-opacity="0.45" stroke="#b466b0" stroke-width="1.3"/>
<circle cx="664.18" cy="308.48" r="1.9" fill="#b466b0" fill-opacity="0.45" stroke="#b466b0" stroke-width="1.3"/>
<circle cx="712.25" cy="318.06" r="1.9" fill="#b466b0" fill-opacity="0.45" stroke="#b466b0" stroke-width="1.3"/>
<circle cx="760.32" cy="346.82" r="1.9" fill="#b466b0" fill-opacity="0.45" stroke="#b466b0" stroke-width="1.3"/>
<circle cx="808.39" cy="400.90" r="1.9" fill="#b466b0" fill-opacity="0.45" stroke="#b466b0" stroke-width="1.3"/>
<path d="M664.18,303.68 C683.41,305.60 694.04,303.03 712.25,308.48 C732.50,314.53 743.47,319.60 760.32,332.44 C781.93,348.90 792.40,359.58 808.39,381.73 C830.85,412.84 837.24,432.05 856.46,465.60" fill="none" stroke="#aab52a" stroke-width="1.6"/>
<circle cx="664.18" cy="303.68" r="1.9" fill="#aab52a" fill-opacity="0.45" stroke="#aab52a" stroke-width="1.3"/>
<circle cx="712.25" cy="308.48" r="1.9" fill="#aab52a" fill-opacity="0.45" stroke="#aab52a" stroke-width="1.3"/>
<circle cx="760.32" cy="332.44" r="1.9" fill="#aab52a" fill-opacity="0.45" stroke="#aab52a" stroke-width="1.3"/>
<circle cx="808.39" cy="381.73" r="1.9" fill="#aab52a" fill-opacity="0.45" stroke="#aab52a" stroke-width="1.3"/>
<circle cx="856.46" cy="465.60" r="1.9" fill="#aab52a" fill-opacity="0.45" stroke="#aab52a" stroke-width="1.3"/>
<text x="509.40" y="382.60" font-size="6.8" fill="#999" text-anchor="middle" textLength="66.40" lengthAdjust="spacing" stroke="#999" stroke-width="0.2" transform="rotate(-90 509.4 382.60)">TRAJECTORY (CM)</text>
<text x="916.20" y="382.60" font-size="6.8" fill="#9ccdd1" text-anchor="middle" textLength="58.00" lengthAdjust="spacing" stroke="#9ccdd1" stroke-width="0.2" transform="rotate(90 916.2 382.60)">VELOCITY (MPS)</text>
<text x="962.50" y="382.60" font-size="6.8" fill="#e9c45f" text-anchor="middle" textLength="65.50" lengthAdjust="spacing" stroke="#e9c45f" stroke-width="0.2" transform="rotate(90 962.5 382.60)">ENERGY (JOULES)</text>
<text x="712.25" y="498.40" font-size="6.8" fill="#999" text-anchor="middle" textLength="72.50" lengthAdjust="spacing" stroke="#999" stroke-width="0.2">DISTANCE (METERS)</text>
<rect x="611.70" y="282.90" width="13.40" height="5.60" fill="rgba(115,183,190,0.5)" stroke="rgba(115,183,190,0.5)" stroke-width="0"/>
<text x="627.20" y="287.50" font-size="6.0" fill="#aaa" textLength="28.90" lengthAdjust="spacing" stroke="#aaa" stroke-width="0.12">VELOCITY</text>
<rect x="671.30" y="282.90" width="13.40" height="5.60" fill="rgba(240,196,70,0.55)" stroke="rgba(240,196,70,0.55)" stroke-width="0"/>
<text x="686.80" y="287.50" font-size="6.0" fill="#aaa" textLength="23.90" lengthAdjust="spacing" stroke="#aaa" stroke-width="0.12">ENERGY</text>
<rect x="726.05" y="283.65" width="11.90" height="4.10" fill="rgba(0,0,0,0.1)" stroke="#b466b0" stroke-width="1.5"/>
<text x="740.80" y="287.50" font-size="6.0" fill="#aaa" textLength="38.10" lengthAdjust="spacing" stroke="#aaa" stroke-width="0.12">TRAJ. SHORT</text>
<rect x="794.75" y="283.65" width="11.90" height="4.10" fill="rgba(0,0,0,0.1)" stroke="#aab52a" stroke-width="1.5"/>
<text x="809.50" y="287.50" font-size="6.0" fill="#aaa" textLength="34.40" lengthAdjust="spacing" stroke="#aaa" stroke-width="0.12">TRAJ. LONG</text>
</svg>
</body></html>
